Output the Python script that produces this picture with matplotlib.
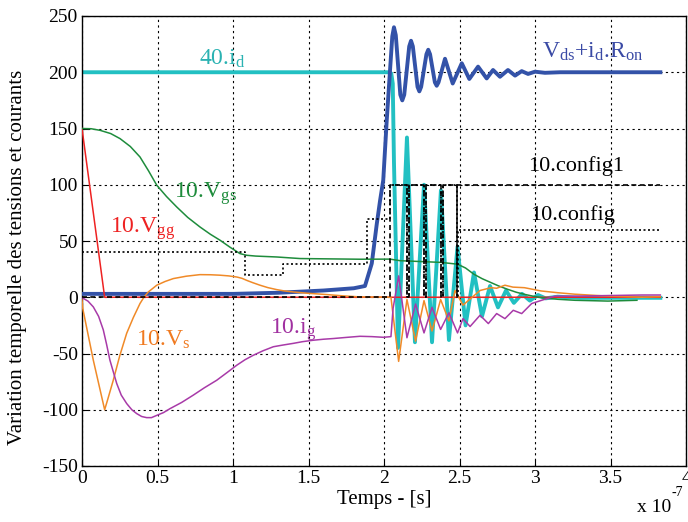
import matplotlib
matplotlib.use('Agg')
import matplotlib.pyplot as plt

plt.rcParams['font.family'] = ['Liberation Serif', 'DejaVu Serif']
plt.rcParams['mathtext.fontset'] = 'custom'
plt.rcParams['mathtext.rm'] = 'Liberation Serif'
plt.rcParams['mathtext.it'] = 'Liberation Serif:italic'
plt.rcParams['axes.unicode_minus'] = False

# time axis in units of 1e-7 s
# 40.id
id_t = [0, 2.03, 2.048, 2.058, 2.066, 2.093, 2.152, 2.205, 2.265, 2.318, 2.377, 2.43,
        2.487, 2.54, 2.596, 2.649, 2.702, 2.755, 2.808, 2.86, 2.914, 2.966, 3.02, 3.07,
        3.15, 3.3, 3.83]
id_v = [200, 200, 199, 190, 120, -45, 142, -40, 100, -40, 95, -38,
        45, -25, 22, -17, 10, -9, 6, -5, 3, -3, 2, -1,
        0.5, -0.5, -0.5]

# Vds + id.Ron
vds_t = [0, 1.0, 1.3, 1.6, 1.8, 1.874, 1.919, 1.952, 1.974, 1.995, 2.018, 2.04, 2.055,
         2.066, 2.078, 2.108, 2.121, 2.134, 2.167, 2.179, 2.191, 2.222, 2.234, 2.246,
         2.281, 2.293, 2.305, 2.337, 2.349, 2.361, 2.404, 2.455, 2.515, 2.565, 2.623,
         2.68, 2.722, 2.768, 2.821, 2.868, 2.912, 2.954, 3.0, 3.066, 3.166, 3.83]
vds_v = [3, 3, 4, 6, 8, 10, 30, 65, 86, 104, 157, 202, 232,
         240, 233, 180, 175, 180, 223, 228, 223, 187, 183, 187,
         216, 220, 216, 191, 188, 191, 212, 190, 208, 194, 205,
         194.5, 202, 196, 202, 197, 201, 198.5, 200.5, 199.5, 200, 200]

# 10.Vgs
vgs_t = [0, 0.06, 0.119, 0.19, 0.252, 0.32, 0.384, 0.44, 0.495, 0.56, 0.627, 0.70,
         0.781, 0.85, 0.914, 0.98, 1.046, 1.091, 1.15, 1.289, 1.444, 1.841, 2.04, 2.106,
         2.375, 2.487, 2.54, 2.596, 2.65, 2.709, 2.76, 2.82, 2.875, 2.93, 2.985, 3.04,
         3.15, 3.265, 3.483, 3.675]
vgs_v = [150, 149.8, 148.4, 145.5, 141, 134, 124.7, 112.5, 99.6, 89.5, 80.3, 71,
         62.5, 56, 50.7, 44.5, 38.8, 37.3, 36.6, 35.8, 34.4, 33.8, 33.9, 32.5,
         31, 29.4, 26, 20.4, 16.5, 13, 10, 7, 4.5, 2.6, 1, -0.4,
         -1.8, -2.7, -3.4, -2.7]

# 10.Vgg
vgg_t = [0, 0.15, 3.83]
vgg_v = [150, 0, 0]

# 10.Vs
vs_t = [0, 0.005, 0.075, 0.15, 0.17, 0.207, 0.25, 0.296, 0.34, 0.384, 0.41, 0.439, 0.47,
        0.495, 0.55, 0.605, 0.69, 0.781, 0.85, 0.914, 0.97, 1.025, 1.06, 1.091, 1.13,
        1.179, 1.23, 1.289, 1.34, 1.399, 1.5, 1.62, 1.73, 1.841, 2.046, 2.097, 2.152,
        2.209, 2.265, 2.318, 2.375, 2.43, 2.47, 2.523, 2.636, 2.709, 2.746, 2.801, 2.854,
        2.93, 3.04, 3.152, 3.265, 3.483, 3.709, 3.83]
vs_v = [-2, -10, -56, -100, -91, -73.8, -52, -32, -18, -5.6, 0, 4.7, 8,
        10.7, 14, 16.6, 18.7, 20.1, 20, 19.6, 19, 18, 16.8, 15, 13,
        10.7, 8.6, 6.8, 5.6, 4.7, 3.5, 2.4, 1.2, 0.3, 0, -57, -2,
        -39, -3, -30, -2, -21, 6, -7, 6, 8.5, 8, 10.7, 9,
        8.5, 5.6, 4, 2.7, 1, 0, 0.5]

# 10.ig
ig_t = [0, 0.009, 0.04, 0.075, 0.11, 0.141, 0.163, 0.185, 0.23, 0.26, 0.296, 0.33, 0.362,
        0.395, 0.428, 0.46, 0.495, 0.54, 0.583, 0.66, 0.737, 0.81, 0.892, 0.96, 1.025,
        1.08, 1.134, 1.2, 1.267, 1.33, 1.399, 1.46, 1.532, 1.6, 1.664, 1.75, 1.841, 1.92,
        1.997, 2.046, 2.06, 2.097, 2.152, 2.209, 2.265, 2.318, 2.375, 2.43, 2.487, 2.523,
        2.57, 2.636, 2.691, 2.746, 2.801, 2.856, 2.912, 2.978, 3.044, 3.132, 3.265, 3.483,
        3.709, 3.83]
ig_v = [0, -1, -3.5, -8.6, -17, -29, -42, -56, -76.7, -87, -94.5, -100, -103.4,
        -106, -107, -107, -105, -102.5, -99, -93.5, -87, -80.5, -73.8, -67, -60.4,
        -55.5, -51.6, -47.5, -44, -42.5, -41, -39.5, -38.2, -37.3, -36.7, -35.7, -34.7, -35,
        -35.6, -35, -10, 19, -36, -6, -31.7, -9, -28.6, -13.8, -31.7, -19,
        -26, -16, -23.4, -14.5, -19, -11.6, -14.5, -5.6, -2.7, 1, 1, 1.5,
        2, 2]

# 10.config (dotted)
cfg_t = [0, 1.08, 1.08, 1.33, 1.33, 1.886, 1.886, 2.04, 2.04, 2.15, 2.15, 2.163, 2.163,
         2.267, 2.267, 2.28, 2.28, 2.377, 2.377, 2.39, 2.39, 2.481, 2.481, 2.49, 2.49, 3.83]
cfg_v = [40, 40, 20, 20, 30, 30, 70, 70, 100, 100, 0, 0, 100,
         100, 0, 0, 100, 100, 0, 0, 100, 100, 0, 0, 60, 60]

# 10.config1 (dashed)
cfg1_t = [0, 2.04, 2.04, 2.15, 2.15, 2.163, 2.163, 2.267, 2.267, 2.28, 2.28,
          2.377, 2.377, 2.39, 2.39, 3.83]
cfg1_v = [0, 0, 100, 100, 0, 0, 100, 100, 0, 0, 100,
          100, 0, 0, 100, 100]

# switching edge (solid)
edge_t = [2.481, 2.481]
edge_v = [0, 100]

fig = plt.figure(figsize=(6.88, 5.22), dpi=100)
ax = fig.add_axes([82 / 688, 1 - 466 / 522, 604 / 688, 450 / 522])

ax.plot(id_t, id_v, color='#22c0c2', lw=2.8, zorder=2)
ax.plot(vds_t, vds_v, color='#3352a8', lw=2.8, zorder=3)
ax.plot(vgg_t, vgg_v, color='#ee2222', lw=1.1, zorder=4)
ax.plot(vgs_t, vgs_v, color='#1e8c3c', lw=1.1, zorder=4)
ax.plot(vs_t, vs_v, color='#f08a28', lw=1.1, zorder=4)
ax.plot(ig_t, ig_v, color='#a83aa8', lw=1.1, zorder=4)
ax.plot(cfg_t, cfg_v, color='black', lw=1.2, ls=(0, (1.2, 1.5)), zorder=5)
ax.plot(cfg1_t, cfg1_v, color='black', lw=1.2, ls=(0, (3, 2)), zorder=5)
ax.plot(edge_t, edge_v, color='black', lw=1.1, zorder=5)

ax.set_xlim(0, 4)
ax.set_ylim(-150, 250)
ax.set_xticks([0, 0.5, 1, 1.5, 2, 2.5, 3, 3.5, 4])
ax.set_xticklabels(['0', '0.5', '1', '1.5', '2', '2.5', '3', '3.5', '4'])
ax.set_yticks(range(-150, 251, 50))
ax.tick_params(direction='in', length=4, labelsize=14, pad=3)
ax.grid(True, color='black', lw=0.8, ls=(0, (2, 3)))
ax.set_axisbelow(True)
for s in ax.spines.values():
    s.set_linewidth(1.0)

ax.set_xlabel('Temps - [s]', fontsize=15, labelpad=2)
ax.set_ylabel('Variation temporelle des tensions et courants', fontsize=15)
ax.yaxis.set_label_coords(-0.091, 0.464)
# offset label "x 10^-7" with a plain hyphen in the exponent
fig.text(0.975, 0.012, 'x 10', ha='right', va='bottom', fontsize=14)
fig.text(0.976, 0.045, '-7', ha='left', va='bottom', fontsize=10)

ax.text(0.93, 212, r'40.i$_{\mathrm{d}}$', color='#2ab2b2', fontsize=17, ha='center', va='center')
ax.text(3.38, 218, r'V$_{\mathrm{ds}}$+i$_{\mathrm{d}}$.R$_{\mathrm{on}}$', color='#3a4aa5',
        fontsize=17, ha='center', va='center')
ax.text(3.27, 117, '10.config1', color='black', fontsize=16, ha='center', va='center')
ax.text(3.25, 73, '10.config', color='black', fontsize=16, ha='center', va='center')
ax.text(0.82, 92, r'10.V$_{\mathrm{gs}}$', color='#1e8c3c', fontsize=17, ha='center', va='center')
ax.text(0.40, 61, r'10.V$_{\mathrm{gg}}$', color='#ee2222', fontsize=17, ha='center', va='center')
ax.text(0.54, -38, r'10.V$_{\mathrm{s}}$', color='#f07a20', fontsize=17, ha='center', va='center')
ax.text(1.40, -29, r'10.i$_{\mathrm{g}}$', color='#a030a0', fontsize=17, ha='center', va='center')

fig.savefig('out.png', dpi=100)
